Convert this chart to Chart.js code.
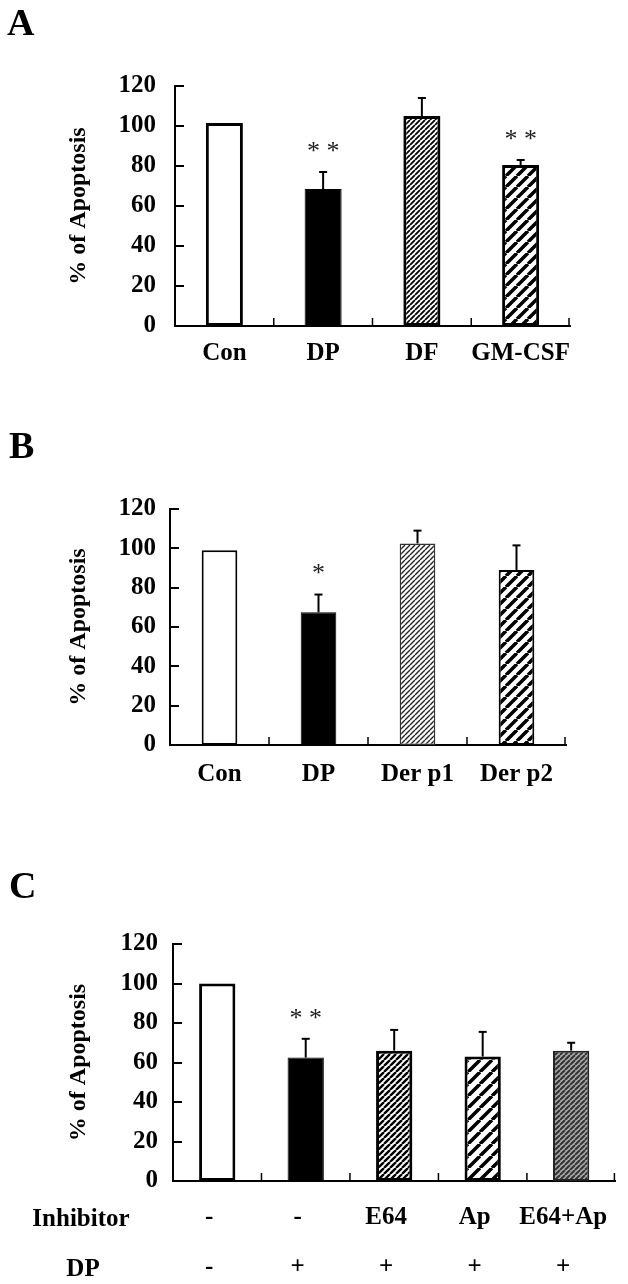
<!DOCTYPE html>
<html>
<head>
<meta charset="utf-8">
<script src="https://cdn.jsdelivr.net/npm/chart.js@4.4.1/dist/chart.umd.min.js"></script>
<style>
  body { margin: 0; background: #fff; }
  #page { position: relative; width: 628px; height: 1284px; overflow: hidden; font-family: "Liberation Serif", "Times New Roman", serif; }
  canvas { position: absolute; left: 0; }
  .tag { position: absolute; font-weight: bold; font-size: 38px; line-height: 38px; }
  .row { position: absolute; font-weight: bold; font-size: 25px; line-height: 30px; width: 120px; text-align: center; }
</style>
</head>
<body>
<div id="page">
  <canvas id="chart-a" width="628" height="400" style="top:0"></canvas>
  <canvas id="chart-b" width="628" height="420" style="top:400px"></canvas>
  <canvas id="chart-c" width="628" height="464" style="top:820px"></canvas>
  <div class="tag" style="left:7px;top:3px">A</div>
  <div class="tag" style="left:9px;top:426px">B</div>
  <div class="tag" style="left:9px;top:866px">C</div>
  <div class="row" style="left:21px;top:1203px">Inhibitor</div>
  <div class="row" style="left:23px;top:1253px">DP</div>
</div>
<script>
const FONT = '"Liberation Serif", "Times New Roman", serif';

const labelsA = ["Con", "DP", "DF", "GM-CSF"];
const valuesA = [101.5, 68.5, 105, 80.5];
const errorsA = [0, 8.5, 9, 2.5];
const starsA = ["", "**", "", "**"];

const labelsB = ["Con", "DP", "Der p1", "Der p2"];
const valuesB = [99, 67.5, 102.5, 89];
const errorsB = [0, 9, 6.5, 12.5];
const starsB = ["", "*", "", ""];

// panel C: first line = inhibitor, second line = DP
const labelsC = [["-", "-"], ["-", "+"], ["E64", "+"], ["Ap", "+"], ["E64+Ap", "+"]];
const valuesC = [100, 62.5, 66, 63, 66];
const errorsC = [0, 9.5, 10.5, 12.5, 4];
const starsC = ["", "**", "", "", ""];

const yMin = 0;
const yMax = 120;
const yStep = 20;

const hatch = (step, width, fg, bg) => {
  const c = document.createElement("canvas");
  c.width = c.height = step;
  const g = c.getContext("2d");
  g.fillStyle = bg;
  g.fillRect(0, 0, step, step);
  g.strokeStyle = fg;
  g.lineWidth = width;
  g.beginPath();
  for (let k = -1; k <= 1; k++) {
    g.moveTo(k * step, step);
    g.lineTo(k * step + step, 0);
  }
  g.stroke();
  return g.createPattern(c, "repeat");
};

const dense = hatch(5, 1.8, "#000", "#fff");
const denseLight = hatch(5, 1.4, "#222", "#fff");
const wide = hatch(11, 3.5, "#000", "#fff");
const mid = hatch(6, 2.4, "#000", "#fff");
const wideC = hatch(12, 3.5, "#000", "#fff");
const grey = hatch(5, 2, "#333", "#aaa");

// draws inward ticks, error bars and significance stars
const extras = {
  id: "extras",
  afterDatasetsDraw(chart, args, opts) {
    const { ctx, chartArea: area, scales: { x, y } } = chart;
    const data = chart.data.datasets[0].data;
    const n = data.length;
    const line = (x1, y1, x2, y2) => { ctx.beginPath(); ctx.moveTo(x1, y1); ctx.lineTo(x2, y2); ctx.stroke(); };
    ctx.save();
    ctx.strokeStyle = "#000";

    ctx.lineWidth = 2;
    y.ticks.forEach((t) => {
      if (t.value === yMin) return;
      const py = Math.round(y.getPixelForValue(t.value));
      line(area.left, py, area.left + 9, py);
    });

    ctx.lineWidth = 1.5;
    for (let i = 1; i <= n; i++) {
      const px = i < n ? (x.getPixelForValue(i - 1) + x.getPixelForValue(i)) / 2 : area.right - 1;
      line(px, area.bottom, px, area.bottom - 8);
    }

    const bars = chart.getDatasetMeta(0).data;
    ctx.lineWidth = 2;
    bars.forEach((bar, i) => {
      const err = opts.errors[i];
      const top = y.getPixelForValue(data[i] + err);
      if (err) {
        line(bar.x, bar.y, bar.x, top);
        line(bar.x - 4, top, bar.x + 4, top);
      }
      const s = opts.stars[i];
      if (s) {
        ctx.fillStyle = "#222";
        ctx.font = "26px " + FONT;
        ctx.textAlign = "center";
        ctx.textBaseline = "middle";
        ctx.fillText(s.split("").join(" "), bar.x, top - 20);
      }
    });
    ctx.restore();
  }
};

const makeChart = (id, cfg) => {
  const h = document.getElementById(id).height;
  return new Chart(document.getElementById(id), {
    type: "bar",
    data: {
      labels: cfg.labels,
      datasets: [{
        data: cfg.values,
        backgroundColor: cfg.fills,
        borderColor: cfg.borders,
        borderWidth: cfg.borderWidths,
        borderSkipped: false,
        barPercentage: cfg.barPct,
        categoryPercentage: 1
      }]
    },
    options: {
      responsive: false,
      animation: false,
      devicePixelRatio: 1,
      layout: { padding: { left: 60, top: cfg.top, right: 628 - cfg.right, bottom: 0 } },
      plugins: {
        legend: { display: false },
        tooltip: { enabled: false },
        extras: { errors: cfg.errors, stars: cfg.stars }
      },
      scales: {
        x: {
          grid: { display: false, drawTicks: false },
          border: { display: true, color: "#000", width: 2 },
          ticks: {
            color: "#000",
            autoSkip: false,
            maxRotation: 0,
            padding: cfg.xPad,
            labelOffset: cfg.labelOffset || 0,
            font: { family: FONT, size: 25, weight: "bold", lineHeight: cfg.xLine }
          },
          afterFit: (s) => { s.height = h - cfg.bottom; }
        },
        y: {
          min: yMin,
          max: yMax,
          grid: { display: false, drawTicks: false },
          border: { display: true, color: "#000", width: 2 },
          ticks: {
            stepSize: yStep,
            color: "#000",
            padding: cfg.yPad,
            font: { family: FONT, size: 25, weight: "bold" }
          },
          title: {
            display: true,
            text: "% of Apoptosis",
            color: "#000",
            padding: { top: 4, bottom: 0 },
            font: { family: FONT, size: 24, weight: "bold" }
          },
          afterFit: (s) => { s.width = cfg.left - 60; }
        }
      }
    },
    plugins: [extras]
  });
};

makeChart("chart-a", {
  labels: labelsA, values: valuesA, errors: errorsA, stars: starsA,
  fills: ["#fff", "#000", dense, wide],
  borders: ["#000", "#000", "#000", "#000"],
  borderWidths: [3, 1, 3, 3],
  barPct: 0.375,
  left: 175, right: 570, top: 86, bottom: 326,
  xPad: 13, xLine: 1.2, yPad: 19
});

makeChart("chart-b", {
  labels: labelsB, values: valuesB, errors: errorsB, stars: starsB,
  fills: ["#fff", "#000", denseLight, wide],
  borders: ["#000", "#000", "#333", "#000"],
  borderWidths: [2, 1, 1.5, 2],
  barPct: 0.36,
  left: 170, right: 566, top: 109, bottom: 345,
  xPad: 15, xLine: 1.2, yPad: 14
});

makeChart("chart-c", {
  labels: labelsC, values: valuesC, errors: errorsC, stars: starsC,
  fills: ["#fff", "#000", mid, wideC, grey],
  borders: ["#000", "#000", "#000", "#000", "#222"],
  borderWidths: [3, 1, 3, 3, 2],
  barPct: 0.41,
  left: 173, right: 619, top: 124, bottom: 361,
  xPad: 12, xLine: 2, yPad: 15, labelOffset: -8
});
</script>
</body>
</html>
